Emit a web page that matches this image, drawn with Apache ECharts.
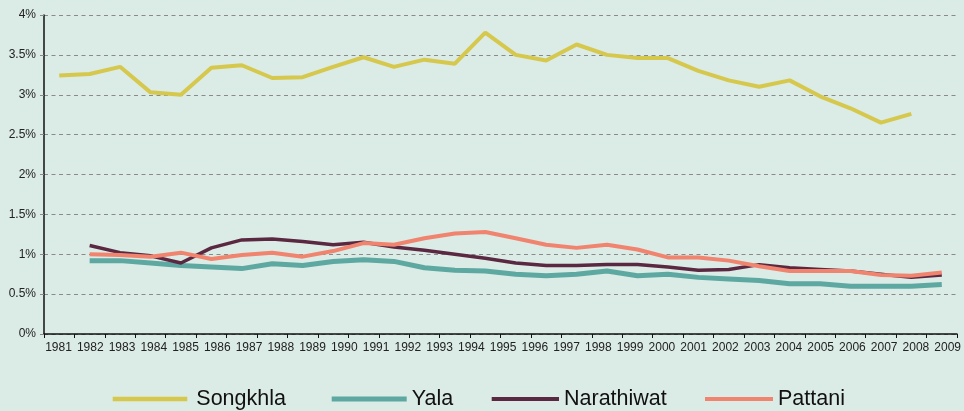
<!DOCTYPE html>
<html>
<head>
<meta charset="utf-8">
<script src="https://cdn.jsdelivr.net/npm/echarts@6/dist/echarts.min.js"></script>
<style>
  html, body { margin: 0; padding: 0; background: #dbebe6; }
  #chart { width: 964px; height: 411px; }
</style>
</head>
<body>
<div id="chart"></div>
<script>
// tick labels shown under the axis
const yearLabels = ['1981', '1982', '1983', '1984', '1985', '1986', '1987', '1988', '1989', '1990',
    '1991', '1992', '1993', '1994', '1995', '1996', '1997', '1998', '1999', '2000',
    '2001', '2002', '2003', '2004', '2005', '2006', '2007', '2008', '2009']

// the plotted slots (30 bands, one more than the labels)
const slots = ['s0', 's1', 's2', 's3', 's4', 's5', 's6', 's7', 's8', 's9',
    's10', 's11', 's12', 's13', 's14', 's15', 's16', 's17', 's18', 's19',
    's20', 's21', 's22', 's23', 's24', 's25', 's26', 's27', 's28', 's29']

const songkhla = [3.24, 3.26, 3.35, 3.03, 3.00, 3.34, 3.37, 3.21, 3.22, 3.35,
    3.47, 3.35, 3.44, 3.39, 3.78, 3.50, 3.43, 3.63, 3.50, 3.46,
    3.46, 3.30, 3.18, 3.10, 3.18, 2.98, 2.83, 2.65, 2.76, null]

const yala = [null, 0.92, 0.92, 0.89, 0.86, 0.84, 0.82, 0.88, 0.86, 0.91,
    0.93, 0.91, 0.83, 0.80, 0.79, 0.75, 0.73, 0.75, 0.79, 0.73,
    0.75, 0.71, 0.69, 0.67, 0.63, 0.63, 0.60, 0.60, 0.60, 0.62]

const narathiwat = [null, 1.11, 1.02, 0.98, 0.89, 1.08, 1.18, 1.19, 1.16, 1.12,
    1.15, 1.09, 1.05, 1.00, 0.95, 0.89, 0.86, 0.86, 0.87, 0.87,
    0.84, 0.80, 0.81, 0.87, 0.83, 0.81, 0.79, 0.75, 0.71, 0.74]

const pattani = [null, 1.00, 0.99, 0.97, 1.02, 0.94, 0.99, 1.02, 0.97, 1.04,
    1.14, 1.12, 1.20, 1.26, 1.28, 1.20, 1.12, 1.08, 1.12, 1.06,
    0.96, 0.96, 0.92, 0.85, 0.79, 0.79, 0.79, 0.74, 0.73, 0.77]

const chart = echarts.init(document.getElementById('chart'))

const line = (name, data, color, width) => ({
    name: name,
    type: 'line',
    xAxisIndex: 0,
    yAxisIndex: 0,
    data: data,
    symbol: 'none',
    connectNulls: false,
    lineStyle: { color: color, width: width },
    itemStyle: { color: color }
})

// one legend per entry, the original spaces them unevenly
const legendItem = (name, left, width, height, textPad) => ({
    data: [name],
    left: left,
    top: 388,
    padding: 0,
    itemWidth: width,
    itemHeight: height,
    icon: 'rect',
    textStyle: { fontSize: 21.5, color: '#111', padding: [0, 0, 0, textPad] }
})

chart.setOption({
    backgroundColor: '#dbebe6',
    animation: false,
    textStyle: { fontFamily: 'Liberation Sans, Arial, sans-serif' },
    grid: [
        { left: 44, right: 7, top: 15, bottom: 77 },
        // labels only, spaced the way the original draws them
        { left: 42.6, width: 923.4, top: 15, bottom: 77 }
    ],
    legend: [
        legendItem('Songkhla', 112.7, 74.6, 4.5, 4),
        legendItem('Yala', 331.7, 75, 5, 0),
        legendItem('Narathiwat', 491.7, 67.3, 4, 0),
        legendItem('Pattani', 705, 68, 4, 0)
    ],
    xAxis: [
        {
            type: 'category',
            gridIndex: 0,
            data: slots,
            boundaryGap: true,
            axisLine: { lineStyle: { color: '#111', width: 1.5 } },
            axisTick: { show: true, interval: 0, length: 4, lineStyle: { color: '#111' } },
            axisLabel: { show: false }
        },
        {
            type: 'category',
            gridIndex: 1,
            data: yearLabels,
            boundaryGap: true,
            axisLine: { show: false },
            axisTick: { show: false },
            axisLabel: { interval: 0, fontSize: 12, color: '#222', margin: 8 }
        }
    ],
    yAxis: [
        {
            type: 'value',
            gridIndex: 0,
            min: 0,
            max: 4,
            interval: 0.5,
            axisLine: { show: true, lineStyle: { color: '#111', width: 1.5 } },
            axisTick: { show: true, length: 4, lineStyle: { color: '#888' } },
            axisLabel: { fontSize: 12, color: '#222', margin: 8, formatter: v => v + '%' },
            splitLine: { lineStyle: { color: '#8a8a8a', type: [4, 3.5], width: 1.2 } }
        },
        {
            type: 'value',
            gridIndex: 1,
            show: false
        }
    ],
    series: [
        line('Songkhla', songkhla, '#d6c84d', 4),
        line('Yala', yala, '#5ea8a2', 5),
        line('Narathiwat', narathiwat, '#5a2840', 3.5),
        line('Pattani', pattani, '#f0846f', 4)
    ]
})
</script>
</body>
</html>
